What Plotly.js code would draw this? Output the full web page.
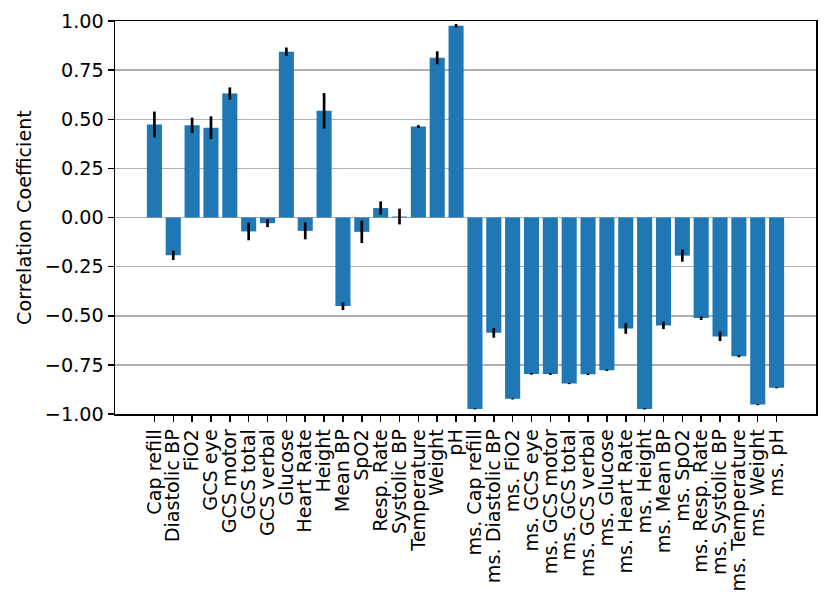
<!DOCTYPE html>
<html>
<head>
<meta charset="utf-8">
<script src="https://cdn.plot.ly/plotly-3.0.1.min.js"></script>
<style>
  html, body { margin: 0; padding: 0; background: #fff; }
</style>
</head>
<body>
<div id="chart" style="width:830px;height:613px;"></div>
<script>
const features = [
  'Cap refill', 'Diastolic BP', 'FiO2', 'GCS eye', 'GCS motor', 'GCS total',
  'GCS verbal', 'Glucose', 'Heart Rate', 'Height', 'Mean BP', 'SpO2',
  'Resp. Rate', 'Systolic BP', 'Temperature', 'Weight', 'pH',
  'ms. Cap refill', 'ms. Diastolic BP', 'ms. FiO2', 'ms. GCS eye', 'ms. GCS motor',
  'ms. GCS total', 'ms. GCS verbal', 'ms. Glucose', 'ms. Heart Rate', 'ms. Height',
  'ms. Mean BP', 'ms. SpO2', 'ms. Resp. Rate', 'ms. Systolic BP', 'ms. Temperature',
  'ms. Weight', 'ms. pH',
];

const correlation = [
  0.473, -0.192, 0.469, 0.457, 0.631, -0.071,
  -0.029, 0.844, -0.068, 0.543, -0.451, -0.073,
  0.048, 0.005, 0.463, 0.813, 0.976,
  -0.974, -0.587, -0.923, -0.796, -0.796,
  -0.845, -0.798, -0.777, -0.565, -0.974,
  -0.549, -0.194, -0.512, -0.605, -0.706,
  -0.952, -0.866,
];

const spread = [
  0.066, 0.024, 0.039, 0.058, 0.031, 0.045,
  0.020, 0.021, 0.043, 0.090, 0.020, 0.057,
  0.034, 0.040, 0.007, 0.033, 0.009,
  0.003, 0.025, 0.003, 0.004, 0.005,
  0.003, 0.004, 0.004, 0.027, 0.003,
  0.019, 0.031, 0.009, 0.024, 0.005,
  0.003, 0.003,
];

const yTicks = [-1, -0.75, -0.5, -0.25, 0, 0.25, 0.5, 0.75, 1];

const positions = features.map((_, i) => i);
const fontFamily = 'DejaVu Sans, sans-serif';
const fontSize = 19.2;

Plotly.newPlot('chart', [{
  type: 'bar',
  x: positions,
  y: correlation,
  width: 0.8,
  marker: { color: '#1f77b4', line: { width: 0 } },
  error_y: {
    type: 'data',
    array: spread,
    visible: true,
    color: '#000000',
    thickness: 2.7,
    width: 0,
  },
  hoverinfo: 'x+y',
}], {
  width: 830,
  height: 613,
  margin: { l: 115, r: 14, t: 21, b: 199, pad: 0 },
  paper_bgcolor: '#ffffff',
  plot_bgcolor: '#ffffff',
  showlegend: false,
  font: { family: fontFamily, size: fontSize, color: '#000000' },
  xaxis: {
    range: [-2.09, 35.09],
    tickmode: 'array',
    tickvals: positions,
    ticktext: features,
    tickangle: -90,
    ticks: 'outside',
    ticklen: 6,
    tickwidth: 1.5,
    tickcolor: '#000000',
    showgrid: false,
    zeroline: false,
    showline: true,
    linecolor: '#000000',
    linewidth: 1.5,
    mirror: true,
    tickfont: { family: fontFamily, size: fontSize },
  },
  yaxis: {
    range: [-1, 1],
    tickmode: 'array',
    tickvals: yTicks,
    tickformat: '.2f',
    ticks: 'outside',
    ticklen: 6,
    tickwidth: 1.5,
    tickcolor: '#000000',
    showgrid: true,
    gridcolor: '#b0b0b0',
    gridwidth: 1.5,
    zeroline: false,
    showline: true,
    linecolor: '#000000',
    linewidth: 1.5,
    mirror: true,
    tickfont: { family: fontFamily, size: fontSize },
    title: { text: 'Correlation Coefficient', font: { family: fontFamily, size: fontSize }, standoff: 8 },
  },
}, { displayModeBar: false, staticPlot: true });
</script>
</body>
</html>
